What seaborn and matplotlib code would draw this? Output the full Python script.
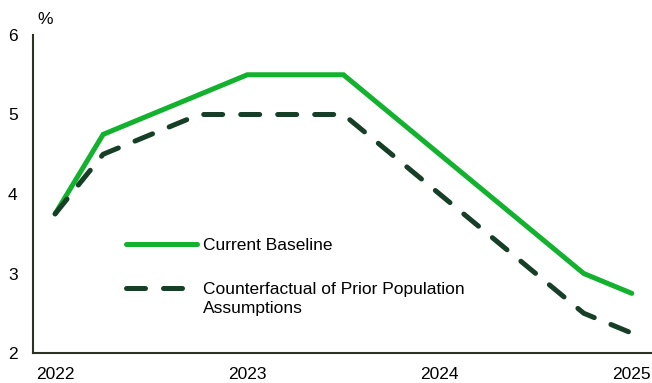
import matplotlib
matplotlib.use("Agg")
import matplotlib.pyplot as plt
import seaborn as sns
import pandas as pd

# Quarterly points, 2022 Q1 .. 2025 Q1
quarters = list(range(13))
baseline = [3.75, 4.75, 5.0, 5.25, 5.5, 5.5, 5.5, 5.0, 4.5, 4.0, 3.5, 3.0, 2.75]
counterfactual = [3.75, 4.5, 4.75, 5.0, 5.0, 5.0, 5.0, 4.5, 4.0, 3.5, 3.0, 2.5, 2.25]
year_ticks = [0, 4, 8, 12]
year_labels = ["2022", "2023", "2024", "2025"]
y_ticks = [2, 3, 4, 5, 6]
series_names = ["Current Baseline", "Counterfactual of Prior Population"]
label_continuation = "Assumptions"

sns.set_style("white")
plt.rcParams["font.family"] = ["Liberation Sans", "DejaVu Sans"]
plt.rcParams["text.color"] = "black"

GREEN = "#12B22E"
DARK = "#173F27"
SPINE = "#2B3324"

df = pd.DataFrame({"q": quarters, "base": baseline, "cf": counterfactual})

fig = plt.figure(figsize=(6.52, 3.83), dpi=100)
ax = fig.add_axes([33 / 652, 1 - 353 / 383, 1 - 33 / 652, (353 - 35) / 383])

sns.lineplot(data=df, x="q", y="base", ax=ax, color=GREEN, linewidth=3.6,
             label=series_names[0], solid_capstyle="round", solid_joinstyle="miter")
sns.lineplot(data=df, x="q", y="cf", ax=ax, color=DARK, linewidth=3.6,
             label=series_names[1], dashes=False)
ax.lines[1].set_dashes((3.8, 3.6))
ax.lines[1].set_dash_capstyle("round")

ax.set_xlim(-0.46, 12.42)
ax.set_ylim(2, 6)
ax.set_xticks(year_ticks)
ax.set_xticklabels(year_labels)
ax.set_yticks(y_ticks)
ax.set_xlabel("")
ax.set_ylabel("")
ax.tick_params(axis="both", length=0, labelsize=12.5, colors="black")
ax.tick_params(axis="y", pad=11)
ax.tick_params(axis="x", pad=10)

for s in ["top", "right"]:
    ax.spines[s].set_visible(False)
for s in ["left", "bottom"]:
    ax.spines[s].set_color(SPINE)
    ax.spines[s].set_linewidth(1.5)

ax.annotate("%", xy=(0, 1), xycoords="axes fraction", xytext=(3, 6),
            textcoords="offset points", ha="left", va="bottom", fontsize=12.5)

leg = ax.legend(loc="upper left", bbox_to_anchor=(0.15, 0.3614), frameon=False,
                fontsize=12.5, handlelength=4.1, handletextpad=0.35,
                labelspacing=1.67, borderpad=0, borderaxespad=0)
for h in leg.get_lines():
    h.set_linewidth(3.6)
leg.get_lines()[1].set_dashes((3.8, 3.6))
leg.get_lines()[1].set_dash_capstyle("round")

fig.text(203 / 652, 1 - 308 / 383, label_continuation, ha="left", va="center",
         fontsize=12.5, color="black")

fig.savefig("out.png", dpi=100)
